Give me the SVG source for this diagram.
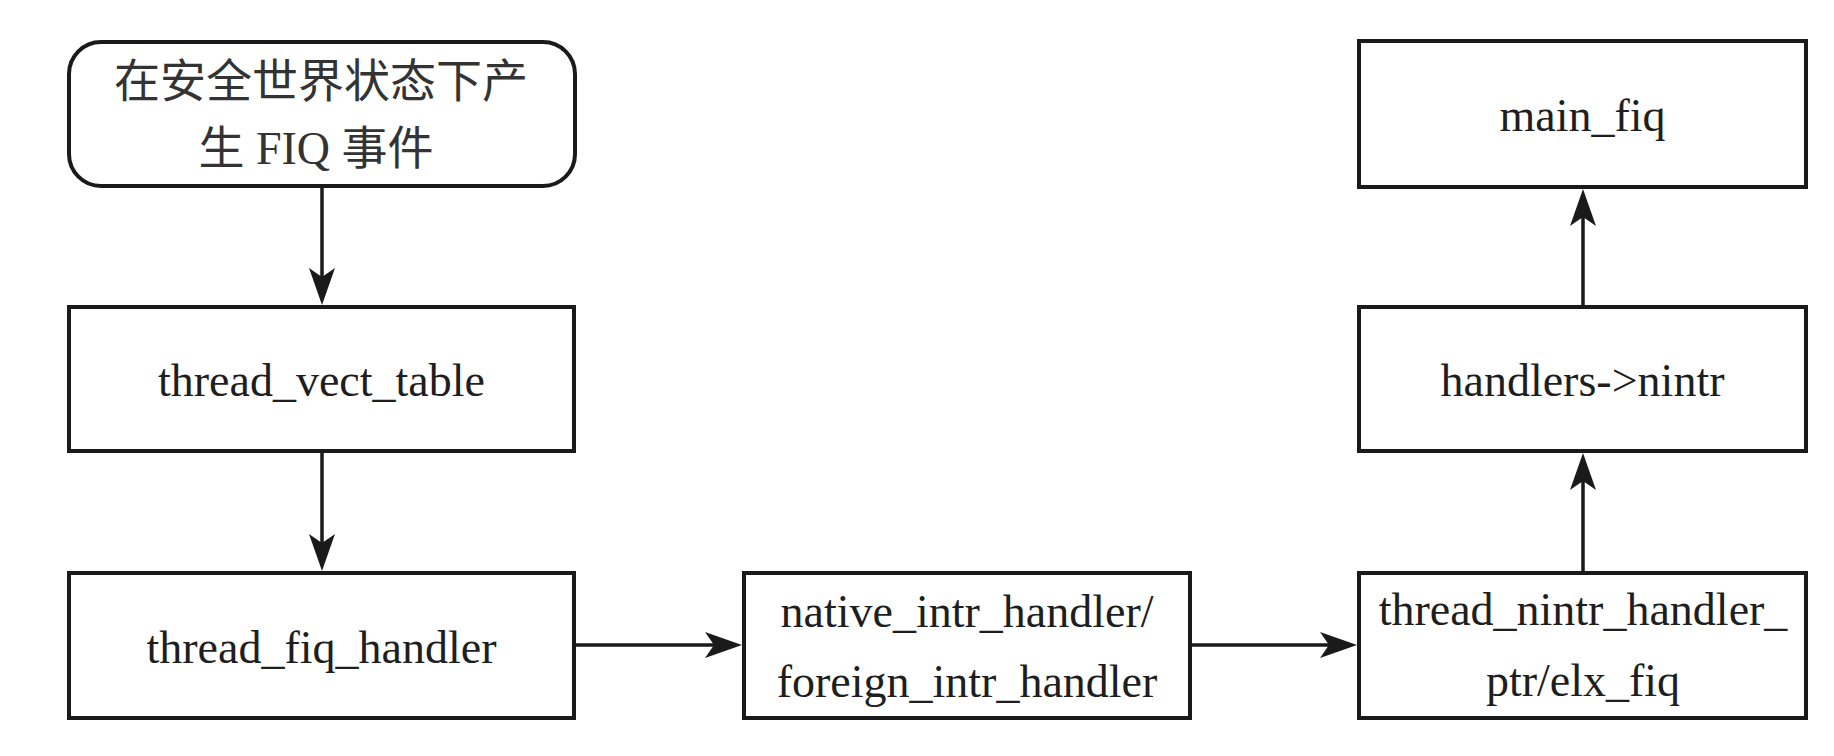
<svg xmlns="http://www.w3.org/2000/svg" width="1834" height="756" viewBox="0 0 1834 756">
<style>
.box{fill:#ffffff;stroke:#1a1a1a;stroke-width:4}
.lbl{font-family:"Liberation Serif","Noto Sans CJK SC",serif;font-size:46px;fill:#1e1e1e;text-anchor:middle}
.cn{font-family:"Liberation Serif","Noto Sans CJK SC",serif;font-size:46px;fill:#333333;text-anchor:middle}
.conn{stroke:#1a1a1a;stroke-width:3.5;fill:none;marker-end:url(#arr)}
</style>
<defs>
<marker id="arr" markerUnits="userSpaceOnUse" markerWidth="40" markerHeight="26" viewBox="0 0 40 26" refX="17" refY="13" orient="auto">
<path d="M37,13 L0,0 L9,13 L0,26 Z" fill="#1a1a1a"/>
</marker>
</defs>
<rect width="1834" height="756" fill="#ffffff"/>
<g id="connectors">
<line class="conn" x1="322" y1="188" x2="322" y2="285"/>
<line class="conn" x1="322" y1="453" x2="322" y2="551"/>
<line class="conn" x1="576" y1="645" x2="722" y2="645"/>
<line class="conn" x1="1192" y1="645" x2="1337" y2="645"/>
<line class="conn" x1="1583" y1="571" x2="1583" y2="473"/>
<line class="conn" x1="1583" y1="305" x2="1583" y2="209"/>
</g>
<g id="start">
<rect class="box" x="69" y="42" width="506" height="144" rx="32" ry="32"/>
<text class="cn" x="321" y="97">在安全世界状态下产</text>
<text class="cn" x="316" y="164">生 FIQ 事件</text>
</g>
<g id="thread_vect_table">
<rect class="box" x="69" y="307" width="505" height="144"/>
<text class="lbl" x="321.5" y="396">thread_vect_table</text>
</g>
<g id="thread_fiq_handler">
<rect class="box" x="69" y="573" width="505" height="145"/>
<text class="lbl" x="321.5" y="663">thread_fiq_handler</text>
</g>
<g id="native_intr_handler">
<rect class="box" x="744" y="573" width="446" height="145"/>
<text class="lbl" x="967" y="627">native_intr_handler/</text>
<text class="lbl" x="967" y="697">foreign_intr_handler</text>
</g>
<g id="thread_nintr_handler">
<rect class="box" x="1359" y="573" width="447" height="145"/>
<text class="lbl" x="1583" y="625">thread_nintr_handler_</text>
<text class="lbl" x="1583" y="696">ptr/elx_fiq</text>
</g>
<g id="handlers_nintr">
<rect class="box" x="1359" y="307" width="447" height="144"/>
<text class="lbl" x="1582.5" y="396">handlers-&gt;nintr</text>
</g>
<g id="main_fiq">
<rect class="box" x="1359" y="41" width="447" height="146"/>
<text class="lbl" x="1582.5" y="131">main_fiq</text>
</g>
</svg>
